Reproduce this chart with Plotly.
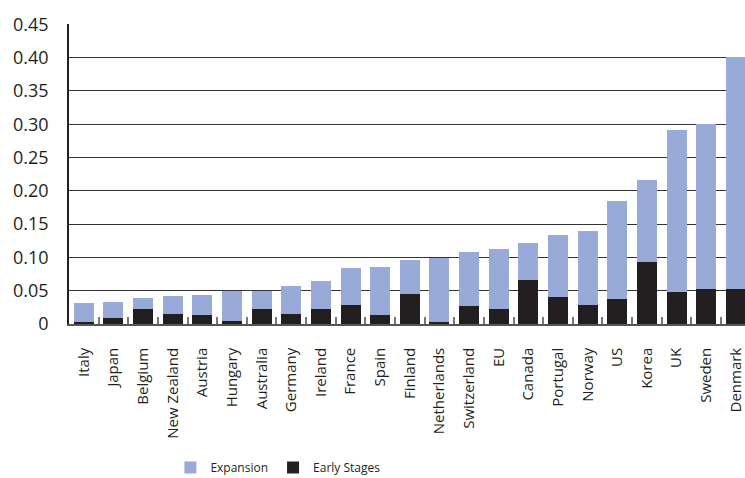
import plotly.graph_objects as go

countries = ["Italy", "Japan", "Belgium", "New Zealand", "Austria", "Hungary", "Australia",
             "Germany", "Ireland", "France", "Spain", "Finland", "Netherlands", "Switzerland",
             "EU", "Canada", "Portugal", "Norway", "US", "Korea", "UK", "Sweden", "Denmark"]

early_stages = [0.0025, 0.0085, 0.022, 0.0145, 0.013, 0.004, 0.022,
                0.0145, 0.022, 0.028, 0.013, 0.0445, 0.0025, 0.0265,
                0.022, 0.0655, 0.040, 0.028, 0.037, 0.0925, 0.0475, 0.052, 0.052]

expansion = [0.0285, 0.0245, 0.0165, 0.027, 0.030, 0.046, 0.028,
             0.042, 0.042, 0.0555, 0.072, 0.051, 0.0965, 0.081,
             0.090, 0.0555, 0.093, 0.111, 0.147, 0.123, 0.2445, 0.249, 0.3495]

y_tickvals = [0, 0.05, 0.10, 0.15, 0.20, 0.25, 0.30, 0.35, 0.40, 0.45]
y_ticktext = ["0", "0.05", "0.10", "0.15", "0.20", "0.25", "0.30", "0.35", "0.40", "0.45"]

TEXT = "#231f20"
FONT = "Open Sans, Noto Sans, sans-serif"

fig = go.Figure()
fig.add_trace(go.Bar(x=countries, y=early_stages, name="Early Stages",
                     marker=dict(color="#231f20", line=dict(width=0))))
fig.add_trace(go.Bar(x=countries, y=expansion, name="Expansion",
                     marker=dict(color="#98aad7", line=dict(width=0))))

fig.update_layout(
    width=745, height=478,
    barmode="stack", bargap=0.325,
    plot_bgcolor="white", paper_bgcolor="white",
    margin=dict(l=69, r=0, t=24, b=154, pad=0, autoexpand=False),
    font=dict(family=FONT, color=TEXT),
    legend=dict(orientation="h", traceorder="reversed",
                x=0.15, xanchor="left", y=-0.478, yanchor="middle",
                font=dict(family=FONT, size=12, color=TEXT),
                itemsizing="constant"),
    showlegend=True,
)
fig.update_xaxes(
    range=[-0.5, 22.31], tickangle=-90, tickfont=dict(size=15, color=TEXT, family=FONT),
    showline=True, linecolor="#555555", linewidth=1.5,
    ticks="inside", tickson="boundaries", ticklen=7, tickcolor="#777777", tickwidth=1.5,
    ticklabelstandoff=16, showgrid=False, automargin=False,
)
fig.update_yaxes(
    range=[0, 0.4505], tickvals=y_tickvals, ticktext=y_ticktext,
    tickfont=dict(size=18, color=TEXT, family=FONT),
    showline=True, linecolor="#231f20", linewidth=1.5,
    showgrid=True, gridcolor="#333333", gridwidth=1,
    zeroline=False, ticks="", ticklabelstandoff=15, automargin=False,
)

fig.write_html(
    "out.html",
    config={"displayModeBar": False},
    post_script="document.body.style.margin='0';document.documentElement.style.overflow='hidden';",
)
